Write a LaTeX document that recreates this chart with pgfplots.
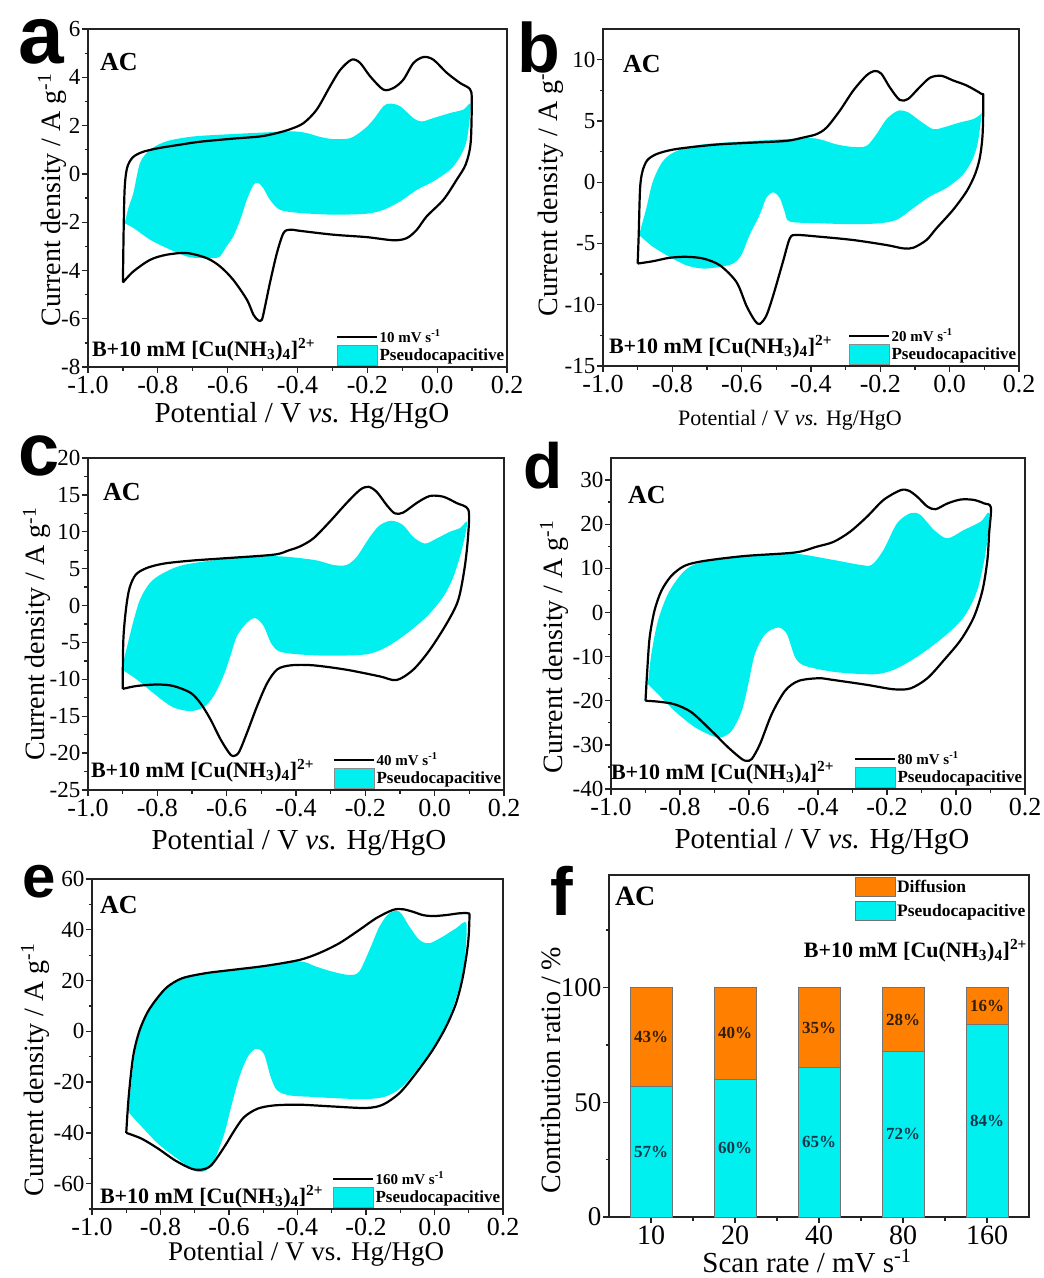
\documentclass[border=0pt]{standalone}
\usepackage{fontspec}
\setmainfont{Liberation Serif}
\newfontfamily\panelfont{Liberation Sans}
\usepackage{pgfplots}
\pgfplotsset{compat=1.18}
\definecolor{cvcyan}{RGB}{0,240,240}
\definecolor{barorange}{RGB}{255,128,0}
\definecolor{spine}{RGB}{35,35,35}
\definecolor{cyanlab}{RGB}{20,55,75}
\definecolor{oranlab}{RGB}{50,30,10}
\newcommand{\fs}[1]{\fontsize{#1}{#1}\selectfont}
\pgfplotsset{
  common/.style={
    scale only axis,
    axis line style={line width=1.6pt, spine},
    tick align=outside,
    tick pos=left,
    major tick length=6pt, minor tick length=3.5pt,
    tick style={line width=1.3pt, spine},
    xticklabel style={font=\fs{26}, inner sep=3pt},
    yticklabel style={font=\fs{23}, inner sep=1.5pt},
    /pgf/number format/assume math mode=true,
    legend cell align=left,
    legend style={draw=none, fill=none, font=\bfseries, inner sep=0pt, outer sep=0pt, row sep=0pt,
      nodes={inner sep=1.5pt}},
  },
  cv/.style={
    common,
    xmin=-1, xmax=0.2,
    xtick={-1,-0.8,-0.6,-0.4,-0.2,0,0.2},
    xticklabels={-1.0,-0.8,-0.6,-0.4,-0.2,0.0,0.2},
    minor xtick={-0.9,-0.7,-0.5,-0.3,-0.1,0.1},
    legend style={at={(0.997,0.004)}, anchor=south east},
  },
  cyanfill/.style={fill=cvcyan, draw=none, smooth, tension=0.5, forget plot},
  cvline/.style={black, line width=2.2pt, smooth, tension=0.5, line join=round,
    legend image code/.code={\draw[black, line width=2.2pt] (0pt,0pt) -- (40pt,0pt);}},
  cyanleg/.style={legend image code/.code={\draw[fill=cvcyan, draw=black!45, line width=0.5pt] (0pt,-10pt) rectangle (40pt,10pt);}},
}
\begin{document}
\begin{tikzpicture}
% ---------------- a ----------------
\begin{axis}[cv, at={(88pt,-367pt)}, anchor=south west, width=419pt, height=338pt,
  ymin=-8, ymax=6, ytick={-8,-6,-4,-2,0,2,4,6}, yticklabels={-8,-6,-4,-2,0,2,4,6},
  minor ytick={-7,-5,-3,-1,1,3,5}]
\addplot[cyanfill] coordinates {(-0.895,-2.05) (-0.884,-1.4) (-0.870,-0.79) (-0.851,0.45) (-0.822,1.0) (-0.775,1.35) (-0.698,1.55) (-0.584,1.65) (-0.488,1.72) (-0.412,1.76) (-0.374,1.69) (-0.335,1.53) (-0.297,1.44) (-0.249,1.48) (-0.211,1.83) (-0.183,2.24) (-0.154,2.8) (-0.135,2.91) (-0.106,2.8) (-0.068,2.31) (-0.044,2.17) (-0.011,2.31) (0.037,2.52) (0.075,2.66) (0.096,2.87) (0.085,1.41) (0.066,0.72) (0.037,0.17) (-0.011,-0.31) (-0.058,-0.66) (-0.106,-1.14) (-0.154,-1.49) (-0.202,-1.65) (-0.297,-1.69) (-0.393,-1.62) (-0.45,-1.49) (-0.479,-1.07) (-0.498,-0.59) (-0.512,-0.38) (-0.526,-0.45) (-0.545,-1.07) (-0.564,-1.9) (-0.584,-2.59) (-0.603,-3.0) (-0.622,-3.42) (-0.641,-3.49) (-0.679,-3.49) (-0.717,-3.42) (-0.775,-3.07) (-0.822,-2.73) (-0.870,-2.24) (-0.895,-2.05)} -- cycle;
\addplot[cvline] coordinates {(-0.9,-4.5) (-0.898,-2.4) (-0.895,-0.6) (-0.888,0.25) (-0.872,0.68) (-0.845,0.9) (-0.80,1.06) (-0.74,1.2) (-0.68,1.33) (-0.584,1.46) (-0.507,1.55) (-0.459,1.69) (-0.421,1.85) (-0.383,2.1) (-0.345,2.66) (-0.307,3.62) (-0.278,4.3) (-0.245,4.73) (-0.221,4.6) (-0.192,4.04) (-0.154,3.49) (-0.125,3.56) (-0.097,3.9) (-0.068,4.59) (-0.039,4.84) (-0.011,4.73) (0.028,4.18) (0.066,3.76) (0.094,3.51) (0.099,3.07) (0.096,1.3) (0.082,0.4) (0.056,-0.24) (0.018,-1.07) (-0.03,-1.76) (-0.058,-2.31) (-0.087,-2.66) (-0.125,-2.75) (-0.202,-2.62) (-0.297,-2.52) (-0.393,-2.36) (-0.421,-2.31) (-0.44,-2.45) (-0.459,-3.28) (-0.479,-4.52) (-0.493,-5.49) (-0.502,-6.04) (-0.512,-6.07) (-0.526,-5.84) (-0.545,-5.21) (-0.584,-4.39) (-0.622,-3.83) (-0.66,-3.49) (-0.717,-3.28) (-0.775,-3.35) (-0.822,-3.56) (-0.87,-4.04) (-0.9,-4.5)};
\addlegendentry{\fs{15}10 mV s\textsuperscript{-1}}
\addlegendimage{cyanleg}
\addlegendentry{\fs{17}Pseudocapacitive}
\end{axis}
% ---------------- b ----------------
\begin{axis}[cv, at={(603pt,-366pt)}, anchor=south west, width=416pt, height=337pt,
  ymin=-15, ymax=12.5, ytick={-15,-10,-5,0,5,10}, yticklabels={-15,-10,-5,0,5,10},
  minor ytick={-12.5,-7.5,-2.5,2.5,7.5}]
\addplot[cyanfill] coordinates {(-0.896,-4.31) (-0.875,-2.12) (-0.856,0.08) (-0.827,1.72) (-0.788,2.54) (-0.711,3.09) (-0.567,3.37) (-0.413,3.59) (-0.375,3.5) (-0.327,3.09) (-0.278,2.87) (-0.24,2.96) (-0.211,3.92) (-0.182,5.15) (-0.149,5.83) (-0.12,5.7) (-0.086,5.01) (-0.048,4.33) (-0.019,4.46) (0.029,4.87) (0.068,5.15) (0.092,5.6) (0.094,5.9) (0.082,3.37) (0.068,2.0) (0.039,0.63) (-0.009,-0.47) (-0.057,-1.16) (-0.105,-2.12) (-0.153,-3.07) (-0.202,-3.35) (-0.278,-3.43) (-0.375,-3.35) (-0.461,-3.21) (-0.476,-2.39) (-0.49,-1.29) (-0.509,-0.83) (-0.529,-1.29) (-0.548,-2.66) (-0.577,-4.31) (-0.601,-5.95) (-0.625,-6.64) (-0.663,-6.91) (-0.711,-7.05) (-0.76,-6.78) (-0.808,-6.09) (-0.856,-5.27) (-0.896,-4.31)} -- cycle;
\addplot[cvline] coordinates {(-0.9,-6.64) (-0.897,-4.3) (-0.893,-0.5) (-0.886,0.9) (-0.872,1.8) (-0.845,2.3) (-0.80,2.65) (-0.74,2.88) (-0.663,3.09) (-0.567,3.23) (-0.471,3.37) (-0.423,3.64) (-0.384,3.92) (-0.355,4.46) (-0.317,5.83) (-0.278,7.48) (-0.24,8.71) (-0.216,9.07) (-0.197,8.85) (-0.173,7.75) (-0.144,6.71) (-0.12,6.79) (-0.091,7.62) (-0.057,8.52) (-0.024,8.68) (0.01,8.3) (0.049,7.89) (0.092,7.2) (0.097,6.93) (0.095,3.91) (0.087,2.0) (0.073,0.63) (0.049,-0.74) (0.01,-2.25) (-0.038,-3.76) (-0.067,-4.72) (-0.105,-5.35) (-0.134,-5.4) (-0.182,-5.13) (-0.278,-4.72) (-0.375,-4.45) (-0.442,-4.31) (-0.461,-4.58) (-0.481,-6.5) (-0.509,-9.24) (-0.529,-10.9) (-0.548,-11.57) (-0.562,-11.3) (-0.586,-10.1) (-0.615,-8.15) (-0.663,-6.78) (-0.711,-6.23) (-0.76,-6.09) (-0.808,-6.17) (-0.856,-6.45) (-0.9,-6.64)};
\addlegendentry{\fs{15}20 mV s\textsuperscript{-1}}
\addlegendimage{cyanleg}
\addlegendentry{\fs{17}Pseudocapacitive}
\end{axis}
% ---------------- c ----------------
\begin{axis}[cv, at={(88pt,-790pt)}, anchor=south west, width=416pt, height=332pt,
  ymin=-25, ymax=20, ytick={-25,-20,-15,-10,-5,0,5,10,15,20}, yticklabels={-25,-20,-15,-10,-5,0,5,10,15,20},
  minor ytick={-22.5,-17.5,-12.5,-7.5,-2.5,2.5,7.5,12.5,17.5}]
\addplot[cyanfill] coordinates {(-0.903,-8.65) (-0.889,-5.9) (-0.87,-2.3) (-0.85,0.8) (-0.821,3.1) (-0.783,4.4) (-0.725,5.5) (-0.609,6.3) (-0.464,6.7) (-0.35,6.2) (-0.292,5.5) (-0.254,5.5) (-0.225,6.6) (-0.187,9.3) (-0.158,10.9) (-0.124,11.5) (-0.091,10.9) (-0.062,9.3) (-0.028,8.4) (0.006,9.1) (0.044,10.0) (0.073,10.5) (0.094,11.3) (0.078,7.5) (0.054,3.9) (0.025,1.2) (-0.023,-1.5) (-0.081,-3.8) (-0.138,-5.6) (-0.196,-6.6) (-0.302,-6.8) (-0.396,-6.6) (-0.449,-6.2) (-0.473,-5.0) (-0.493,-2.8) (-0.517,-1.7) (-0.541,-2.3) (-0.57,-4.1) (-0.589,-6.8) (-0.609,-9.5) (-0.638,-12.3) (-0.667,-13.8) (-0.705,-14.3) (-0.754,-13.8) (-0.80,-12.3) (-0.86,-10) (-0.903,-8.65)} -- cycle;
\addplot[cvline] coordinates {(-0.9,-11.3) (-0.898,-4.6) (-0.89,-0.3) (-0.88,2.4) (-0.862,4.2) (-0.83,5.1) (-0.78,5.7) (-0.70,6.1) (-0.609,6.4) (-0.464,6.9) (-0.42,7.5) (-0.389,8.0) (-0.35,9.1) (-0.302,11.4) (-0.254,13.9) (-0.215,15.7) (-0.191,16.1) (-0.167,15.4) (-0.138,13.6) (-0.115,12.5) (-0.091,12.6) (-0.052,13.9) (-0.014,14.85) (0.025,14.75) (0.063,13.9) (0.097,13.0) (0.097,9.8) (0.087,5.3) (0.068,0.75) (0.035,-2.4) (-0.014,-6.0) (-0.062,-8.7) (-0.11,-10.1) (-0.158,-9.6) (-0.254,-8.7) (-0.35,-8.1) (-0.415,-8.1) (-0.454,-8.65) (-0.483,-10.5) (-0.512,-13.6) (-0.541,-17.2) (-0.565,-19.9) (-0.582,-20.4) (-0.594,-19.9) (-0.618,-18.1) (-0.647,-15.4) (-0.676,-13.2) (-0.705,-11.8) (-0.754,-10.9) (-0.80,-10.7) (-0.86,-10.9) (-0.9,-11.3)};
\addlegendentry{\fs{15}40 mV s\textsuperscript{-1}}
\addlegendimage{cyanleg}
\addlegendentry{\fs{17}Pseudocapacitive}
\end{axis}
% ---------------- d ----------------
\begin{axis}[cv, at={(611pt,-789pt)}, anchor=south west, width=414pt, height=331pt,
  ymin=-40, ymax=35, ytick={-40,-30,-20,-10,0,10,20,30}, yticklabels={-40,-30,-20,-10,0,10,20,30},
  minor ytick={-35,-25,-15,-5,5,15,25}]
\addplot[cyanfill] coordinates {(-0.893,-16.2) (-0.883,-9.4) (-0.864,-1.9) (-0.835,4.2) (-0.796,8.7) (-0.757,10.9) (-0.66,12.5) (-0.515,13.2) (-0.452,13.2) (-0.355,11.9) (-0.278,10.8) (-0.244,10.8) (-0.21,14.2) (-0.171,20.2) (-0.132,22.5) (-0.103,22.1) (-0.064,18.7) (-0.025,16.8) (0.023,18.7) (0.072,20.6) (0.096,22.5) (0.087,14.2) (0.062,5.1) (0.023,-1.0) (-0.035,-5.5) (-0.112,-10.0) (-0.181,-13.0) (-0.239,-14.0) (-0.35,-13.5) (-0.437,-12.1) (-0.466,-10.2) (-0.49,-4.9) (-0.515,-3.4) (-0.553,-4.9) (-0.583,-9.4) (-0.602,-16.2) (-0.621,-22.3) (-0.65,-26.8) (-0.68,-28.3) (-0.709,-27.9) (-0.757,-26) (-0.806,-23) (-0.845,-20) (-0.893,-16.2)} -- cycle;
\addplot[cvline] coordinates {(-0.9,-20.0) (-0.895,-13.2) (-0.888,-5.7) (-0.874,0.4) (-0.854,4.9) (-0.825,8.3) (-0.786,10.6) (-0.728,11.7) (-0.612,12.8) (-0.466,13.6) (-0.404,14.9) (-0.355,16.0) (-0.307,18.3) (-0.258,21.7) (-0.21,25.5) (-0.161,27.7) (-0.137,27.6) (-0.112,26.2) (-0.083,24.0) (-0.059,23.4) (-0.025,24.7) (0.014,25.6) (0.052,25.5) (0.082,24.7) (0.101,23.8) (0.096,17.9) (0.091,11.9) (0.077,5.1) (0.052,-1.0) (0.014,-6.2) (-0.035,-10.8) (-0.083,-14.9) (-0.132,-17.2) (-0.181,-17.4) (-0.258,-16.4) (-0.355,-15.3) (-0.398,-14.9) (-0.456,-15.5) (-0.495,-17.7) (-0.534,-23.0) (-0.568,-29.8) (-0.592,-33.2) (-0.607,-33.6) (-0.621,-33.2) (-0.66,-30.6) (-0.709,-26.8) (-0.767,-22.6) (-0.816,-20.8) (-0.864,-20.2) (-0.9,-20.0)};
\addlegendentry{\fs{15}80 mV s\textsuperscript{-1}}
\addlegendimage{cyanleg}
\addlegendentry{\fs{17}Pseudocapacitive}
\end{axis}
% ---------------- e ----------------
\begin{axis}[cv, at={(92pt,-1209pt)}, anchor=south west, width=411pt, height=330pt,
  ymin=-70, ymax=60, ytick={-60,-40,-20,0,20,40,60}, yticklabels={-60,-40,-20,0,20,40,60},
  minor ytick={-70,-50,-30,-10,10,30,50}]
\addplot[cyanfill] coordinates {(-0.895,-31) (-0.888,-24) (-0.876,-9.5) (-0.858,1) (-0.835,8) (-0.81,13) (-0.78,17.2) (-0.737,20.6) (-0.668,22.6) (-0.59,23.9) (-0.493,25.5) (-0.395,27.6) (-0.346,25.5) (-0.298,23.5) (-0.249,22.2) (-0.22,23.5) (-0.19,32) (-0.161,41.2) (-0.132,46.5) (-0.102,47.1) (-0.073,41.2) (-0.044,36) (-0.015,34.7) (0.024,37.3) (0.063,40.6) (0.093,42.6) (0.088,28.1) (0.073,17.6) (0.044,5.8) (0.005,-4.6) (-0.044,-13.8) (-0.093,-21.7) (-0.141,-25.6) (-0.2,-26.7) (-0.298,-26.3) (-0.343,-25.9) (-0.42,-25.3) (-0.459,-23.3) (-0.478,-18.1) (-0.498,-8.9) (-0.522,-6.9) (-0.546,-10.2) (-0.57,-18.1) (-0.594,-29.9) (-0.614,-40.4) (-0.643,-50.8) (-0.667,-54.8) (-0.69,-55.4) (-0.71,-54.1) (-0.758,-49.5) (-0.807,-44.3) (-0.845,-39) (-0.889,-32.5) (-0.895,-31)} -- cycle;
\addplot[cvline] coordinates {(-0.9,-40) (-0.893,-26) (-0.88,-10) (-0.862,0) (-0.838,7.5) (-0.81,13) (-0.78,17.5) (-0.737,20.9) (-0.668,22.9) (-0.59,24.2) (-0.493,25.8) (-0.395,28.1) (-0.337,30.8) (-0.278,34.7) (-0.22,39.9) (-0.171,44.5) (-0.122,47.8) (-0.093,48.1) (-0.063,47.1) (-0.034,45.8) (-0.005,45.4) (0.034,45.8) (0.073,46.5) (0.098,46.5) (0.102,45.2) (0.098,34.7) (0.083,21.6) (0.063,11.1) (0.034,1.9) (-0.005,-7.3) (-0.054,-16.5) (-0.102,-24.3) (-0.151,-28.9) (-0.2,-30.2) (-0.298,-29.6) (-0.395,-28.9) (-0.469,-29.2) (-0.517,-30.5) (-0.556,-33.8) (-0.584,-39) (-0.614,-45.6) (-0.652,-52.8) (-0.681,-54.5) (-0.71,-54.1) (-0.758,-50.8) (-0.807,-46.2) (-0.855,-42.3) (-0.9,-40)};
\addlegendentry{\fs{15}160 mV s\textsuperscript{-1}}
\addlegendimage{cyanleg}
\addlegendentry{\fs{17}Pseudocapacitive}
\end{axis}
% ---------------- f ----------------
\begin{axis}[common, at={(609pt,-1217pt)}, anchor=south west, width=420pt, height=342pt,
  ybar stacked, bar width=42pt,
  xmin=0.5, xmax=5.5, ymin=0, ymax=149,
  xtick={1,2,3,4,5}, xticklabels={10,20,40,80,160}, minor xtick={1.5,2.5,3.5,4.5},
  ytick={0,50,100}, yticklabels={0,50,100}, minor ytick={25,75,125},
  xticklabel style={font=\fs{28}}, yticklabel style={font=\fs{27}},
  reverse legend,
  legend style={at={(0.995,0.993)}, anchor=north east, font=\bfseries\fs{17.5}, row sep=4pt}]
\addplot[fill=cvcyan, draw=black!55, line width=0.8pt,
  legend image code/.code={\draw[fill=cvcyan, draw=black!55, line width=0.6pt] (0pt,-9.5pt) rectangle (40pt,9.5pt);}]
  coordinates {(1,57) (2,60) (3,65) (4,72) (5,84)};
\addlegendentry{Pseudocapacitive}
\addplot[fill=barorange, draw=black!55, line width=0.8pt,
  legend image code/.code={\draw[fill=barorange, draw=black!55, line width=0.6pt] (0pt,-9.5pt) rectangle (40pt,9.5pt);}]
  coordinates {(1,43) (2,40) (3,35) (4,28) (5,16)};
\addlegendentry{Diffusion}
\end{axis}
% ---------------- texts ----------------
\begin{scope}[every node/.style={inner sep=0pt, outer sep=0pt}]
% bar value labels (f): x = 609 + (i-0.5)*84, y = 1217 - v*342/149
\begin{scope}[font=\bfseries\fs{17}]
\node[text=cyanlab] at (651pt,-1151.6pt) {57\%};
\node[text=cyanlab] at (735pt,-1148.1pt) {60\%};
\node[text=cyanlab] at (819pt,-1142.4pt) {65\%};
\node[text=cyanlab] at (903pt,-1134.4pt) {72\%};
\node[text=cyanlab] at (987pt,-1120.6pt) {84\%};
\node[text=oranlab] at (651pt,-1036.8pt) {43\%};
\node[text=oranlab] at (735pt,-1033.4pt) {40\%};
\node[text=oranlab] at (819pt,-1027.6pt) {35\%};
\node[text=oranlab] at (903pt,-1019.6pt) {28\%};
\node[text=oranlab] at (987pt,-1005.8pt) {16\%};
\end{scope}
% panel letters
\node[anchor=base west, font=\panelfont\bfseries\fs{82}] at (19pt,-63pt) {a};
\node[anchor=base west, font=\panelfont\bfseries\fs{70}] at (517pt,-72pt) {b};
\node[anchor=base west, font=\panelfont\bfseries\fs{74}] at (19pt,-475pt) {c};
\node[anchor=base west, font=\panelfont\bfseries\fs{64}] at (523pt,-488pt) {d};
\node[anchor=base west, font=\panelfont\bfseries\fs{60}] at (22pt,-897pt) {e};
\node[anchor=base west, font=\panelfont\bfseries\fs{68}] at (550pt,-915pt) {f};
% AC
\node[anchor=base west, font=\bfseries\fs{26}] at (100pt,-70pt) {AC};
\node[anchor=base west, font=\bfseries\fs{26}] at (623pt,-72pt) {AC};
\node[anchor=base west, font=\bfseries\fs{26}] at (103pt,-500pt) {AC};
\node[anchor=base west, font=\bfseries\fs{26}] at (628pt,-503pt) {AC};
\node[anchor=base west, font=\bfseries\fs{26}] at (100pt,-913pt) {AC};
\node[anchor=base west, font=\bfseries\fs{28}] at (615pt,-905pt) {AC};
% electrolyte
\node[anchor=base west, font=\bfseries\fs{22}] at (92pt,-356pt) {B+10 mM [Cu(NH\textsubscript{3})\textsubscript{4}]\textsuperscript{2+}};
\node[anchor=base west, font=\bfseries\fs{22}] at (609pt,-353pt) {B+10 mM [Cu(NH\textsubscript{3})\textsubscript{4}]\textsuperscript{2+}};
\node[anchor=base west, font=\bfseries\fs{22}] at (91pt,-777pt) {B+10 mM [Cu(NH\textsubscript{3})\textsubscript{4}]\textsuperscript{2+}};
\node[anchor=base west, font=\bfseries\fs{22}] at (611pt,-779pt) {B+10 mM [Cu(NH\textsubscript{3})\textsubscript{4}]\textsuperscript{2+}};
\node[anchor=base west, font=\bfseries\fs{22}] at (100pt,-1203pt) {B+10 mM [Cu(NH\textsubscript{3})\textsubscript{4}]\textsuperscript{2+}};
\node[anchor=base east, font=\bfseries\fs{22}] at (1027pt,-957pt) {B+10 mM [Cu(NH\textsubscript{3})\textsubscript{4}]\textsuperscript{2+}};
% y labels
\node[anchor=base, rotate=90, font=\fs{28}] at (60pt,-200pt) {Current density / A g\textsuperscript{-1}};
\node[anchor=base, rotate=90, font=\fs{28}] at (557pt,-190pt) {Current density / A g\textsuperscript{-1}};
\node[anchor=base, rotate=90, font=\fs{28}] at (45pt,-634pt) {Current density / A g\textsuperscript{-1}};
\node[anchor=base, rotate=90, font=\fs{28}] at (562pt,-647pt) {Current density / A g\textsuperscript{-1}};
\node[anchor=base, rotate=90, font=\fs{28}] at (43pt,-1070pt) {Current density / A g\textsuperscript{-1}};
\node[anchor=base, rotate=90, font=\fs{28}] at (560pt,-1070pt) {Contribution ratio / \%};
% x labels
\node[anchor=base, font=\fs{29}] at (302pt,-422pt) {Potential / V \textit{vs.} Hg/HgO};
\node[anchor=base, font=\fs{22}] at (790pt,-425pt) {Potential / V \textit{vs.} Hg/HgO};
\node[anchor=base, font=\fs{29}] at (299pt,-849pt) {Potential / V \textit{vs.} Hg/HgO};
\node[anchor=base, font=\fs{29}] at (822pt,-848pt) {Potential / V \textit{vs.} Hg/HgO};
\node[anchor=base, font=\fs{27}] at (306pt,-1260pt) {Potential / V vs. Hg/HgO};
\node[anchor=base, font=\fs{29}] at (807pt,-1272pt) {Scan rate / mV s\textsuperscript{-1}};
\end{scope}
\pgfresetboundingbox
\path[use as bounding box] (0pt,0pt) rectangle (1044pt,-1278pt);
\end{tikzpicture}
\end{document}
